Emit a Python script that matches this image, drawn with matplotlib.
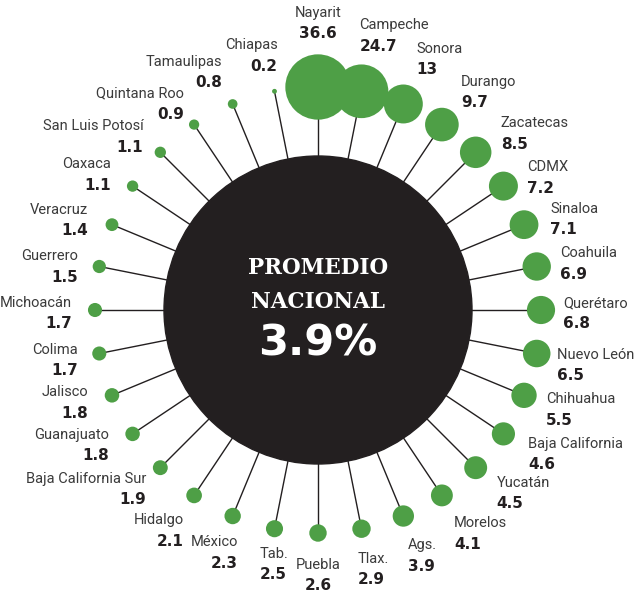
import numpy as np
import matplotlib
matplotlib.use("Agg")
import matplotlib.pyplot as plt
from matplotlib.patches import Circle

# estados en sentido horario a partir de las 12
estados = ["Nayarit", "Campeche", "Sonora", "Durango", "Zacatecas", "CDMX",
           "Sinaloa", "Coahuila", "Querétaro", "Nuevo León", "Chihuahua",
           "Baja California", "Yucatán", "Morelos", "Ags.", "Tlax.", "Puebla",
           "Tab.", "México", "Hidalgo", "Baja California Sur", "Guanajuato",
           "Jalisco", "Colima", "Michoacán", "Guerrero", "Veracruz", "Oaxaca",
           "San Luis Potosí", "Quintana Roo", "Tamaulipas", "Chiapas"]
valores = [36.6, 24.7, 13, 9.7, 8.5, 7.2, 7.1, 6.9, 6.8, 6.5, 5.5, 4.6, 4.5,
           4.1, 3.9, 2.9, 2.6, 2.5, 2.3, 2.1, 1.9, 1.8, 1.8, 1.7, 1.7, 1.5,
           1.4, 1.1, 1.1, 0.9, 0.8, 0.2]
promedio = 3.9

# desplazamiento de cada etiqueta respecto a su burbuja (px) y alineacion
etiquetas = [(0, -74, "center"), (-2, -66, "left"), (13, -55, "left"),
             (19, -43, "left"), (25, -29, "left"), (24, -19, "left"),
             (26, -16, "left"), (23, -13, "left"), (22, -7, "left"),
             (20, 1, "left"), (22, 4, "left"), (25, 10, "left"),
             (21, 15, "left"), (12, 28, "left"), (5, 29, "left"),
             (-4, 30, "left"), (0, 32, "center"), (-1, 25, "center"),
             (5, 26, "right"), (-10, 25, "right"), (-14, 11, "right"),
             (-24, 1, "right"), (-24, -3, "right"), (-21, -4, "right"),
             (-23, -7, "right"), (-21, -10, "right"), (-24, -15, "right"),
             (-22, -22, "right"), (-17, -26, "right"), (-10, -31, "right"),
             (-11, -42, "right"), (3, -46, "right")]

verde = "#4e9f46"
negro = "#231f20"
gris = "#3b3b3b"

W, H = 644, 592
cx, cy = 318, 310
r_centro = 154
r_radio = 223

fig = plt.figure(figsize=(W / 100, H / 100), dpi=100)
ax = fig.add_axes([0, 0, 1, 1])
ax.set_xlim(0, W)
ax.set_ylim(H, 0)
ax.set_aspect("equal")
ax.axis("off")

n = len(estados)
angulos = np.deg2rad(90 - np.arange(n) * 360 / n)
for nombre, v, ang, (dx, dy, ha) in zip(estados, valores, angulos, etiquetas):
    x = cx + r_radio * np.cos(ang)
    y = cy - r_radio * np.sin(ang)
    ax.plot([cx, x], [cy, y], color=negro, lw=1.0, zorder=1)
    ax.add_patch(Circle((x, y), 5.4 * np.sqrt(v), color=verde, lw=0, zorder=3))
    ax.text(x + dx, y + dy, nombre, ha=ha, va="center", fontsize=10.5,
            family="Roboto", color=gris, zorder=4)
    ax.text(x + dx, y + dy + 21, f"{v:g}", ha=ha, va="center", fontsize=11,
            family="DejaVu Sans", fontweight="bold", color=negro, zorder=4)

ax.add_patch(Circle((cx, cy), r_centro, color=negro, zorder=2))
ax.text(cx, 268, "PROMEDIO", ha="center", va="center", fontsize=15.5,
        family="DejaVu Serif", fontweight="bold", color="white", zorder=5)
ax.text(cx, 302, "NACIONAL", ha="center", va="center", fontsize=15.5,
        family="DejaVu Serif", fontweight="bold", color="white", zorder=5)
ax.text(cx, 343, f"{promedio}%", ha="center", va="center", fontsize=31,
        family="DejaVu Sans", fontweight="bold", color="white", zorder=5)

fig.savefig("out.png", dpi=100, facecolor="white")
